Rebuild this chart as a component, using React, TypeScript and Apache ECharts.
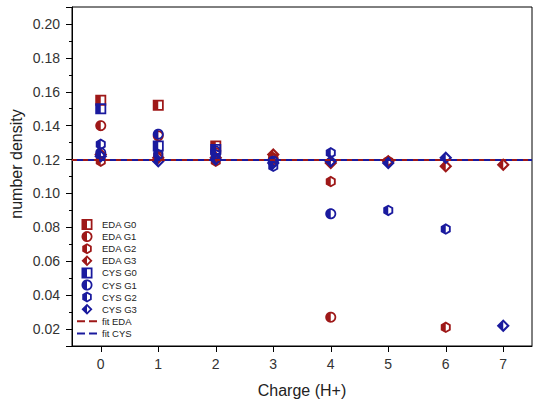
import React, { useEffect, useRef } from 'react';
import * as echarts from 'echarts';

// ---- data ----
const charges = ['0', '1', '2', '3', '4', '5', '6', '7'];
const edaG0 = [0.155, 0.152, 0.128, null, null, null, null, null];
const edaG1 = [0.140, 0.134, 0.124, 0.120, 0.027, null, null, null];
const edaG2 = [0.119, 0.122, 0.119, 0.121, 0.107, 0.119, 0.021, null];
const edaG3 = [0.123, 0.121, 0.121, 0.123, 0.118, 0.119, 0.116, 0.117];
const cysG0 = [0.150, 0.128, 0.126, null, null, null, null, null];
const cysG1 = [0.124, 0.135, 0.125, 0.119, 0.088, null, null, null];
const cysG2 = [0.129, 0.123, 0.123, 0.116, 0.124, 0.090, 0.079, null];
const cysG3 = [0.122, 0.119, 0.120, 0.118, 0.119, 0.118, 0.121, 0.022];
const fitEDA = 0.1214;
const fitCYS = 0.1219;

const RED = '#9e1818';
const BLUE = '#1a1a9e';
const FONT = '"Liberation Sans", Arial, sans-serif';

// ---- half-filled marker paths (left half filled, right half outlined) ----
type P = [number, number];
const seg = (pts: P[]) => 'M' + pts.map((p) => p[0].toFixed(3) + ',' + p[1].toFixed(3)).join('L') + 'Z';
const T = 3.2;
function circlePath(): string {
  const outer: P[] = [];
  const N = 40;
  for (let i = 0; i < N; i++) {
    const a = (-90 + (360 * i) / N) * Math.PI / 180;
    outer.push([10 + 10 * Math.cos(a), 10 + 10 * Math.sin(a)]);
  }
  const r = 10 - T;
  const hole: P[] = [[10, 10 - r], [10, 10 + r]];
  for (let i = 1; i < 20; i++) {
    const a = (90 - (180 * i) / 20) * Math.PI / 180;
    hole.push([10 + r * Math.cos(a), 10 + r * Math.sin(a)]);
  }
  return 'path://' + seg(outer) + seg(hole);
}
function squarePath(): string {
  const outer: P[] = [[0, 0], [20, 0], [20, 20], [0, 20]];
  const hole: P[] = [[10, T], [10, 20 - T], [20 - T, 20 - T], [20 - T, T]];
  return 'path://' + seg(outer) + seg(hole);
}
function diamondPath(): string {
  const outer: P[] = [[10, 0], [20, 10], [10, 20], [0, 10]];
  const a = T * Math.SQRT2;
  const hole: P[] = [[10, a], [10, 20 - a], [20 - a, 10]];
  return 'path://' + seg(outer) + seg(hole);
}
function hexPath(): string {
  const outer: P[] = [];
  for (let i = 0; i < 6; i++) {
    const a = (-90 + 60 * i) * Math.PI / 180;
    outer.push([10 + 10 * Math.cos(a), 10 + 10 * Math.sin(a)]);
  }
  const r = 10 - T / Math.cos(Math.PI / 6);
  const c = Math.cos(Math.PI / 6);
  const hole: P[] = [[10, 10 - r], [10, 10 + r], [10 + r * c, 10 + r / 2], [10 + r * c, 10 - r / 2]];
  return 'path://' + seg(outer) + seg(hole);
}
const SQ = squarePath();
const CI = circlePath();
const HX = hexPath();
const DI = diamondPath();
const DASH = 'path://M0,0H8V2H0Z M12,0H20V2H12Z';

const groups = [
  { name: 'EDA G0', vals: edaG0, sym: SQ, size: 11, color: RED },
  { name: 'EDA G1', vals: edaG1, sym: CI, size: 11, color: RED },
  { name: 'EDA G2', vals: edaG2, sym: HX, size: [10, 11.5], color: RED },
  { name: 'EDA G3', vals: edaG3, sym: DI, size: 13, color: RED },
  { name: 'CYS G0', vals: cysG0, sym: SQ, size: 11, color: BLUE },
  { name: 'CYS G1', vals: cysG1, sym: CI, size: 11, color: BLUE },
  { name: 'CYS G2', vals: cysG2, sym: HX, size: [10, 11.5], color: BLUE },
  { name: 'CYS G3', vals: cysG3, sym: DI, size: 13, color: BLUE },
];

export default function App() {
  const ref = useRef<HTMLDivElement>(null);
  useEffect(() => {
    if (!ref.current) return;
    const chart = echarts.init(ref.current, undefined, { renderer: 'svg' });
    const fitSeries = (name: string, v: number, color: string, offset: number) => ({
      name,
      type: 'scatter',
      data: [],
      itemStyle: { color, borderWidth: 0, opacity: 1 },
      markLine: {
        silent: true,
        symbol: ['none', 'none'],
        label: { show: false },
        emphasis: { disabled: true },
        lineStyle: { color, type: [6, 5], dashOffset: offset, width: 1.8 },
        data: [{ yAxis: v }],
      },
    });
    const scatterSeries = groups.map((g) => ({
      name: g.name,
      type: 'scatter',
      symbol: g.sym,
      symbolSize: g.size,
      data: charges
        .map((c, i) => (g.vals[i] == null ? null : [c, g.vals[i]]))
        .filter((d) => d !== null),
      itemStyle: { color: g.color, borderWidth: 0, opacity: 1 },
      emphasis: { disabled: true },
    }));
    chart.setOption({
      animation: false,
      backgroundColor: '#fff',
      textStyle: { fontFamily: FONT },
      grid: { left: 72, right: 1, top: 7, bottom: 55, show: true, borderColor: '#000', borderWidth: 1 },
      xAxis: {
        type: 'category',
        data: charges,
        boundaryGap: true,
        axisLine: { show: true, lineStyle: { color: '#000', width: 1 } },
        axisTick: { show: true, alignWithLabel: true, length: 6, lineStyle: { color: '#000' } },
        axisLabel: { fontSize: 14, color: '#333', margin: 11, fontFamily: FONT },
        splitLine: { show: false },
      },
      yAxis: [
        {
          type: 'value',
          position: 'left',
          min: 0.01,
          max: 0.21,
          minInterval: 0.02,
          maxInterval: 0.02,
          splitNumber: 10,
          axisLine: { show: true, onZero: false, lineStyle: { color: '#000', width: 1 } },
          axisTick: { show: true, length: 6, lineStyle: { color: '#000' } },
          axisLabel: {
            fontSize: 14,
            color: '#333',
            margin: 12,
            fontFamily: FONT,
            formatter: (v: number) => {
              const k = Math.round(v * 100);
              if (Math.abs(v * 100 - k) > 1e-6 || k % 2 !== 0) return '';
              return v.toFixed(2);
            },
          },
          splitLine: { show: false },
        },
        {
          type: 'value',
          position: 'left',
          min: 0.01,
          max: 0.21,
          interval: 0.01,
          axisLine: { show: false },
          axisTick: { show: true, length: 3, lineStyle: { color: '#000' } },
          axisLabel: { show: false },
          splitLine: { show: false },
        },
      ],
      legend: {
        orient: 'vertical',
        left: 77,
        top: 219,
        padding: 0,
        itemWidth: 20,
        itemHeight: 11,
        itemGap: 1.1,
        selectedMode: false,
        textStyle: { fontSize: 9.5, color: '#222', fontFamily: FONT, lineHeight: 11 },
        data: [
          ...groups.map((g) => ({ name: g.name, icon: g.sym })),
          { name: 'fit EDA', icon: DASH },
          { name: 'fit CYS', icon: DASH },
        ],
      },
      graphic: [
        {
          type: 'text',
          x: 16,
          y: 164,
          rotation: Math.PI / 2,
          style: { text: 'number density', font: '16px ' + FONT, fill: '#222', align: 'center', verticalAlign: 'middle' },
        },
        {
          type: 'text',
          x: 302,
          y: 390,
          style: { text: 'Charge (H+)', font: '16px ' + FONT, fill: '#222', align: 'center', verticalAlign: 'middle' },
        },
      ],
      series: [
        fitSeries('fit EDA', fitEDA, RED, 0),
        fitSeries('fit CYS', fitCYS, BLUE, 5.5),
        ...scatterSeries,
      ],
    });
    return () => chart.dispose();
  }, []);
  return <div ref={ref} style={{ position: 'absolute', left: 0, top: 0, width: 533, height: 401 }} />;
}
